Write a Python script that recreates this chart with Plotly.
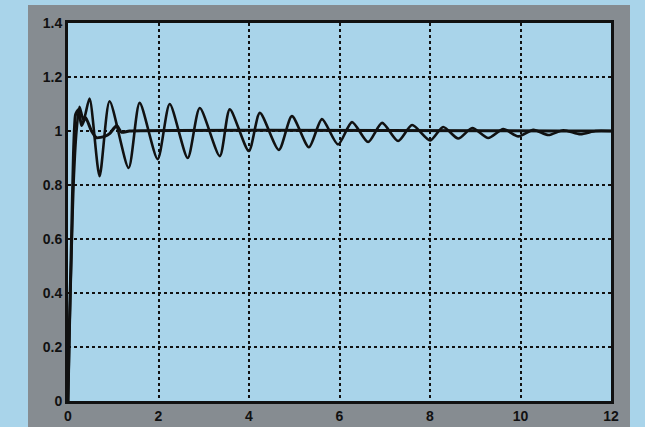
import plotly.graph_objects as go

# pixel-read key points converted to data units
x_scale_px0 = 68.5
px_per_unit = 542 / 12.0

osc_px = [68, 70, 72, 74, 77, 80, 84, 90, 100, 110, 129, 140, 158, 170, 188, 200, 220, 230, 249, 260,
          279, 292, 309, 322, 338, 352, 368, 382, 398, 412, 430, 443, 458, 472, 488, 503, 518,
          533, 548, 563, 580, 595, 611]
osc_val = [0.0, 0.25, 0.55, 0.80, 1.00, 1.09, 1.04, 1.12, 0.833, 1.11, 0.863, 1.104, 0.896, 1.10, 0.90,
           1.085, 0.907, 1.08, 0.926, 1.067, 0.93, 1.055, 0.94, 1.044, 0.95, 1.033, 0.959, 1.03,
           0.963, 1.022, 0.965, 1.015, 0.972, 1.011, 0.974, 1.007, 0.98, 1.004, 0.985, 1.003,
           0.988, 1.0, 1.0]

fast_px = [68, 70, 72, 74, 76, 79, 82, 86, 92, 97, 105, 110, 117, 122, 130, 611]
fast_val = [0.0, 0.3, 0.6, 0.92, 1.06, 1.08, 1.02, 1.05, 1.0, 0.975, 0.98, 0.99, 1.02, 0.995, 1.0, 1.0]

osc_t = [(p - x_scale_px0) / px_per_unit for p in osc_px]
fast_t = [(p - x_scale_px0) / px_per_unit for p in fast_px]
osc_t[0] = 0.0
fast_t[0] = 0.0
osc_t[-1] = 12.0
fast_t[-1] = 12.0

x_ticks = [0, 2, 4, 6, 8, 10, 12]
x_labels = ["0", "2", "4", "6", "8", "10", "12"]
y_ticks = [0, 0.2, 0.4, 0.6, 0.8, 1.0, 1.2, 1.4]
y_labels = ["0", "0.2", "0.4", "0.6", "0.8", "1", "1.2", "1.4"]

BLUE = "#a9d4ea"
GRAY = "#868c91"

fig = go.Figure()
fig.add_trace(go.Scatter(x=osc_t, y=osc_val, mode="lines",
                         line=dict(color="#111111", width=2.6, shape="spline", smoothing=0.7),
                         showlegend=False))
fig.add_trace(go.Scatter(x=fast_t, y=fast_val, mode="lines",
                         line=dict(color="#111111", width=3, shape="spline", smoothing=0.5),
                         showlegend=False))

W, H = 645, 427
l, r, t, b = 68, 34, 23, 26
pw, ph = W - l - r, H - t - b


def px2paper_x(p):
    return (p - l) / pw


def px2paper_y(p):
    return (H - b - p) / ph


fig.add_shape(type="rect", xref="paper", yref="paper",
              x0=px2paper_x(28), x1=px2paper_x(630), y0=px2paper_y(427), y1=px2paper_y(5),
              fillcolor=GRAY, line=dict(width=0), layer="below")
fig.add_shape(type="rect", xref="paper", yref="paper",
              x0=0, x1=1, y0=0, y1=1,
              fillcolor=BLUE, line=dict(width=0), layer="below")

axis_font = dict(family="Liberation Sans, Arial, sans-serif", size=14, color="#111111")

fig.update_xaxes(range=[0, 12], tickvals=x_ticks, ticktext=["<b>%s</b>" % s for s in x_labels],
                 showgrid=True, gridcolor="#111111", gridwidth=2, griddash="dot",
                 showline=True, linecolor="#111111", linewidth=3, mirror=True,
                 zeroline=False, ticks="", tickfont=axis_font, fixedrange=True, automargin=False)
fig.update_yaxes(range=[0, 1.4], tickvals=y_ticks, ticktext=["<b>%s</b>" % s for s in y_labels],
                 showgrid=True, gridcolor="#111111", gridwidth=2, griddash="dot",
                 showline=True, linecolor="#111111", linewidth=3, mirror=True,
                 zeroline=False, ticks="", tickfont=axis_font, fixedrange=True, automargin=False)

fig.update_layout(width=W, height=H, margin=dict(l=l, r=r, t=t, b=b, pad=0, autoexpand=False),
                  paper_bgcolor=BLUE, plot_bgcolor=BLUE, showlegend=False)

fig.write_html("out.html", config={"displayModeBar": False},
               post_script="document.body.style.margin='0';document.body.style.padding='0';"
                           "document.body.style.overflow='hidden';"
                           "document.body.style.background='" + BLUE + "';")
